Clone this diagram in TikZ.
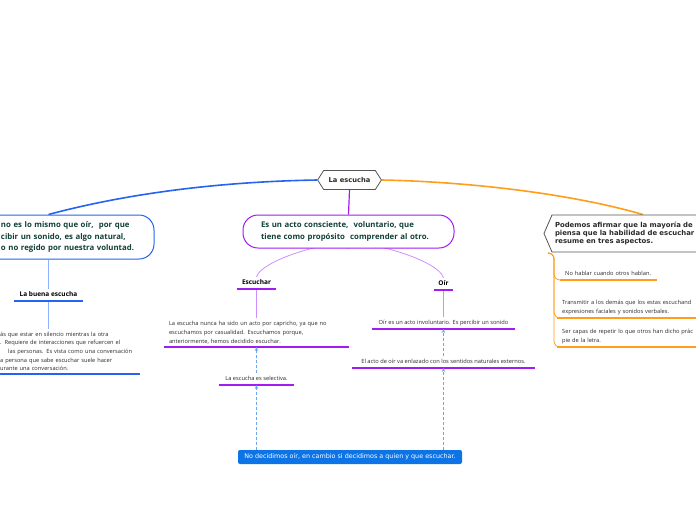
\documentclass[tikz,border=0pt]{standalone}
\usepackage{fontspec}
\setmainfont{Open Sans}
\newfontfamily\dvs{DejaVu Sans}
\usetikzlibrary{arrows.meta,shapes.symbols,backgrounds,calc}
\definecolor{cblue}{HTML}{2563F0}
\definecolor{lblue}{HTML}{8EB1FF}
\definecolor{cpurp}{HTML}{A21CF2}
\definecolor{lpurp}{HTML}{CF8DFF}
\definecolor{corange}{HTML}{FF9D1C}
\definecolor{dblue}{HTML}{6AA5F0}
\definecolor{boxblue}{HTML}{0D74E7}
\definecolor{dgreen}{HTML}{123F36}
\definecolor{gborder}{HTML}{555555}
\definecolor{tgray}{HTML}{2A2A2A}
\tikzset{
  hexa/.style={signal, signal to=west and east, signal pointer angle=115, draw=gborder, fill=white, line width=0.8pt, minimum height=19, inner xsep=5, inner ysep=0, font=\dvs\bfseries\fontsize{6.7}{8}\selectfont, text=tgray},
  sigR/.style={signal, signal to=west, signal pointer angle=133, draw=gborder, fill=white, line width=0.8pt, minimum height=37, inner xsep=3, inner ysep=0, text width=176, align=left, font=\dvs\bfseries\fontsize{6.9}{8.2}\selectfont, text=tgray},
  bigtext/.style={font=\bfseries\fontsize{7.8}{11.3}\selectfont, text=dgreen, align=left},
  pill/.style={draw=#1, line width=1pt, fill=white, rounded corners=15},
  ul/.style={inner xsep=0, inner ysep=3, anchor=south},
  sul/.style={ul, inner ysep=2.5, text depth=1.8},
  body/.style={font=\fontsize{5.7}{8.6}\selectfont, text=tgray},
  head/.style={font=\bfseries\fontsize{6.5}{8}\selectfont, text=black},
  uline/.style={line width=1.4pt, draw=#1},
  conn/.style={line width=0.8pt, draw=#1},
  rel/.style={draw=dblue, line width=0.8pt, dash pattern=on 3pt off 2pt, -{Stealth[length=4pt,width=3.5pt]}},
}
\begin{document}
\begin{tikzpicture}[x=1pt,y=-1pt]
\useasboundingbox (0,0) rectangle (696,520);
% main nodes
\node[hexa] (root) at (349.5,180) {La escucha};
\node[pill=cblue, bigtext, minimum width=194, minimum height=44, inner xsep=8, text width=178] (nl) at (57,237)
 {\hspace*{33pt}no es lo mismo que oír,\ \ por que\\
  \hspace*{33pt}cibir un sonido, es algo natural,\\
  \hspace*{33pt}o no regido por nuestra voluntad.};
\node[pill=cpurp, bigtext, minimum width=211, minimum height=33, inner xsep=18, text width=175] (mid) at (348.5,231.5)
 {Es un acto consciente,\ \ voluntario, que\\ tiene como propósito\ \ comprender al otro.};
\node[sigR] (nr) at (643,233.5)
 {Podemos afirmar que la mayoría de\\ piensa que la habilidad de escuchar\\ resume en tres aspectos.};
% left branch
\node[sul, head, minimum width=69] (bue) at (48.5,301) {La buena escucha};
\node[ul, body, anchor=south west, inner xsep=3, text width=137, align=left] (bueT) at (-3,374)
 {ás que estar en silencio mientras la otra\\
  . Requiere de interacciones que refuercen el\\
  \hspace*{8pt}las personas. Es vista como una conversación\\
  a persona que sabe escuchar suele hacer\\
  urante una conversación.};
% middle branch
\node[sul, head, minimum width=39] (esc) at (256.5,289) {Escuchar};
\node[ul, body, minimum width=185, inner xsep=5, text width=175, align=left] (escT) at (256.5,347)
 {La escucha nunca ha sido un acto por capricho, ya que no\\
  escuchamos por casualidad. Escuchamos porque,\\
  anteriormente, hemos decidido escuchar.};
\node[sul, body, minimum width=75] (sel) at (256.5,385) {La escucha es selectiva.};
\node[sul, head, minimum width=19] (oir) at (443.5,290) {Oír};
\node[sul, body, minimum width=143] (oirT) at (443.5,329) {Oír es un acto involuntario. Es percibir un sonido};
\node[sul, body, minimum width=183] (oirE) at (443.5,368) {El acto de oír va enlazado con los sentidos naturales externos.};
% right branch
\node[sul, body, anchor=south west, inner xsep=5, text width=87, align=left] (r1) at (560,280) {No hablar cuando otros hablan.};
\node[ul, body, anchor=south west, inner xsep=5, text width=150, align=left] (r2) at (557,318)
 {Transmitir a los demás que los estas escuchand\\ expresiones faciales y sonidos verbales.};
\node[ul, body, anchor=south west, inner xsep=5, text width=150, align=left] (r3) at (557,347)
 {Ser capas de repetir lo que otros han dicho prác\\ pie de la letra.};
\coordinate (rs) at (549,253);
% bottom box
\node[fill=boxblue, rounded corners=2, minimum width=224, minimum height=14, inner sep=0,
      text=white, font=\dvs\fontsize{6.4}{7}\selectfont] (box) at (350,457)
 {No decidimos oír, en cambio si decidimos a quien y que escuchar.};
% underlines
\draw[uline=cblue] (bue.south west) -- (bue.south east);
\draw[uline=cblue] (bueT.south west) -- (bueT.south east);
\draw[uline=cpurp] (esc.south west) -- (esc.south east);
\draw[uline=cpurp] (escT.south west) -- (escT.south east);
\draw[uline=cpurp] (sel.south west) -- (sel.south east);
\draw[uline=cpurp] (oir.south west) -- (oir.south east);
\draw[uline=cpurp] (oirT.south west) -- (oirT.south east);
\draw[uline=cpurp] (oirE.south west) -- (oirE.south east);
\draw[uline=corange] (r1.south west) -- (r1.south east);
\draw[uline=corange] (r2.south west) -- ([xshift=200]r2.south west);
\draw[uline=corange] (r3.south west) -- ([xshift=200]r3.south west);
% connectors
\begin{scope}[on background layer]
\draw[cblue, line width=1.6pt] (root.west) .. controls (200,182) and (110,198) .. (bue |- nl.north);
\draw[corange, line width=1.6pt] (root.east) .. controls (480,182) and (580,196) .. (nr.north);
\draw[conn=cpurp, line width=1.2pt] (root.south) -- (mid.north);
\draw[conn=lblue] (bue |- nl.south) -- (bue.north);
\draw[conn=lblue] (bue.south) -- (bue.south |- bueT.north);
\draw[conn=lpurp] (mid.south) .. controls ([yshift=14]mid.south) and (262,258) .. (esc.north);
\draw[conn=lpurp] (mid.south) .. controls ([yshift=14]mid.south) and (438,258) .. (oir.north);
\draw[conn=lpurp] (esc.south) -- (esc.south |- escT.north);
\draw[conn=lpurp] (oir.south) -- (oir.south |- oirT.north);
\draw[conn=corange, rounded corners=6] (rs) -| ([xshift=-6]r1.south west) -- (r1.south west);
\draw[conn=corange, rounded corners=6] (rs) -| ([xshift=-3]r2.south west) -- (r2.south west);
\draw[conn=corange, rounded corners=6] (rs) -| ([xshift=-3]r3.south west) -- (r3.south west);
\end{scope}
\draw[rel] (box.north -| sel) -- (sel.south);
\draw[rel] (sel.north) -- (escT.south);
\draw[rel] (box.north -| oirE) -- (oirE.south);
\draw[rel] (oirE.north) -- (oirT.south);
\end{tikzpicture}
\end{document}
